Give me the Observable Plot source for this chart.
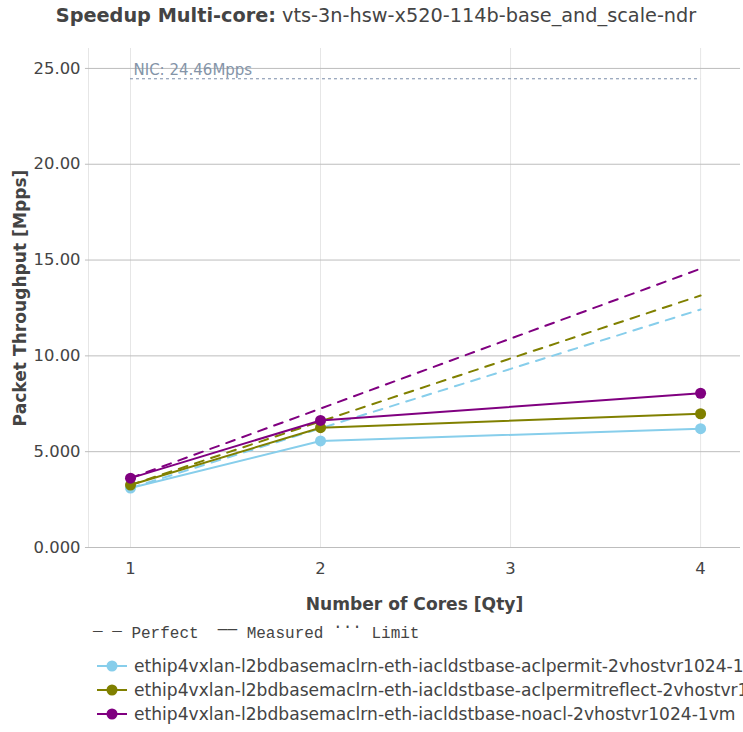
<!DOCTYPE html>
<html><head><meta charset="utf-8">
<script src="https://cdn.jsdelivr.net/npm/d3@7"></script>
<script src="https://cdn.jsdelivr.net/npm/@observablehq/plot@0.6"></script>
<style>
body{margin:0;background:#fff;font-family:"DejaVu Sans",sans-serif;color:#444;width:743px;height:732px;overflow:hidden;position:relative}
#title{position:absolute;left:0;top:0;width:743px;text-align:center;font-size:19.3px;line-height:32px;color:#444;padding-left:9px;box-sizing:border-box;white-space:nowrap}
#chart{position:absolute;left:0;top:32px}
.mono{position:absolute;white-space:pre;font-family:"Liberation Mono",monospace;font-size:16px;color:#444;line-height:20px}
.row{position:absolute;left:96px;font-size:17.1px;white-space:nowrap;height:20px;line-height:20px;display:flex;align-items:center}
.row svg{margin-right:6px;flex:none}
</style></head>
<body>
<div id="title"><b>Speedup Multi-core:</b> vts-3n-hsw-x520-114b-base_and_scale-ndr</div>
<div id="chart"></div>
<div class="mono" style="left:93px;top:624px;"><span style="position:relative;top:6px">¯ ¯</span> Perfect  <span style="position:relative;top:-4px">——</span> Measured <span style="position:relative;top:-7px">···</span> Limit</div>
<div id="legend"></div>
<script>
const cores = [1, 2, 4];
const seriesNames = [
  "ethip4vxlan-l2bdbasemaclrn-eth-iacldstbase-aclpermit-2vhostvr1024-1vm",
  "ethip4vxlan-l2bdbasemaclrn-eth-iacldstbase-aclpermitreflect-2vhostvr1024-1vm",
  "ethip4vxlan-l2bdbasemaclrn-eth-iacldstbase-noacl-2vhostvr1024-1vm"
];
const colors = ["#87ceeb", "#808000", "#800080"];
const measured = [
  [3.10, 5.56, 6.20],
  [3.26, 6.25, 6.98],
  [3.62, 6.63, 8.05]
];
const perfect = [
  [3.10, 6.22, 12.42],
  [3.26, 6.58, 13.15],
  [3.62, 7.25, 14.55]
];
const nicLimit = 24.46;
const nicLabel = "NIC: 24.46Mpps";
const yTicks = [0, 5, 10, 15, 20, 25];
const yTickLabels = ["0.000", "5.000", "10.00", "15.00", "20.00", "25.00"];
const xTicks = [1, 2, 3, 4];

const meas = [], perf = [];
seriesNames.forEach((s, i) => {
  cores.forEach((c, j) => {
    meas.push({series: s, x: c, y: measured[i][j]});
    perf.push({series: s, x: c, y: perfect[i][j]});
  });
});
const colorScale = {domain: seriesNames, range: colors};

const chart = Plot.plot({
  width: 743, height: 588,
  marginTop: 16, marginLeft: 88, marginRight: 3, marginBottom: 73,
  x: {domain: [0.779, 4.21]},
  y: {domain: [0, 26.04]},
  color: colorScale,
  style: {fontFamily: "DejaVu Sans", fontSize: "16px", color: "#444", background: "#fff", overflow: "visible"},
  marks: [
    Plot.ruleX(xTicks, {x: d => d, stroke: "#e6e6e6", strokeWidth: 1}),
    Plot.ruleX([0.779], {stroke: "#e6e6e6"}),
    Plot.ruleY(yTicks, {y: d => d, x1: 0.763, x2: 4.21, stroke: "#bdbdbd", strokeWidth: 1}),
    Plot.axisY(yTicks, {tickSize: 0, tickPadding: 8, tickFormat: d => yTickLabels[yTicks.indexOf(d)], fontSize: 16.4, label: null, fill: "#444"}),
    Plot.axisX(xTicks, {tickSize: 0, tickPadding: 15, tickFormat: d => String(d), fontSize: 16.4, label: null, fill: "#444"}),
    Plot.ruleY([nicLimit], {x1: 1, x2: 4, stroke: "#7a8ca8", strokeDasharray: "3,3", strokeWidth: 1}),
    Plot.text([nicLabel], {x: 1, y: nicLimit, text: d => d, textAnchor: "start", dx: 3, dy: -9, fill: "#8494a8", fontSize: 15}),
    Plot.line(perf, {x: "x", y: "y", z: "series", stroke: "series", strokeWidth: 2, strokeDasharray: "9,8"}),
    Plot.line(meas, {x: "x", y: "y", z: "series", stroke: "series", strokeWidth: 2}),
    Plot.dot(meas, {x: "x", y: "y", fill: "series", r: 5.5}),
    Plot.text(["Number of Cores [Qty]"], {frameAnchor: "bottom", lineAnchor: "middle", dy: 57, fontWeight: "bold", fontSize: 17.1, fill: "#444"}),
    Plot.text(["Packet Throughput [Mpps]"], {frameAnchor: "left", textAnchor: "middle", lineAnchor: "middle", dx: -68, rotate: -90, fontWeight: "bold", fontSize: 17.1, fill: "#444"})
  ]
});
document.getElementById("chart").appendChild(chart);

const leg = document.getElementById("legend");
seriesNames.forEach((s, i) => {
  const row = document.createElement("div");
  row.className = "row";
  row.style.top = (656 + i * 24) + "px";
  row.innerHTML = `<svg width="32" height="16"><line x1="1" y1="8" x2="31" y2="8" stroke="${colors[i]}" stroke-width="2"/><circle cx="16" cy="8" r="5.5" fill="${colors[i]}"/></svg><span>${s}</span>`;
  leg.appendChild(row);
});
</script>
</body></html>
